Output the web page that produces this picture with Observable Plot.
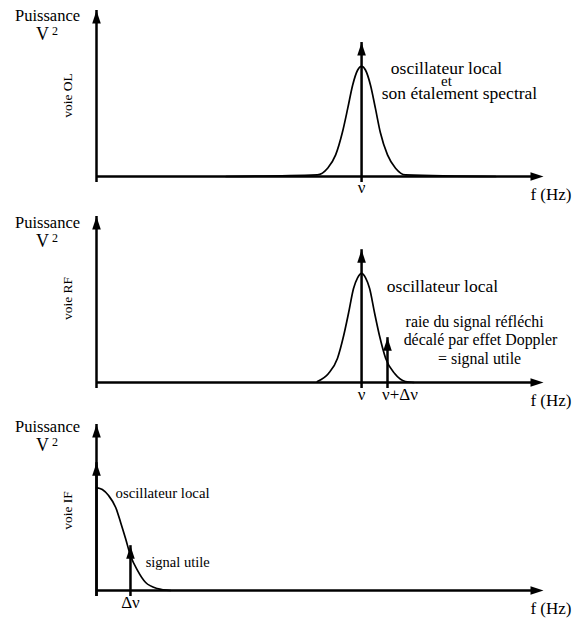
<!DOCTYPE html>
<html><head><meta charset="utf-8">
<script src="https://cdn.jsdelivr.net/npm/d3@7"></script>
<script src="https://cdn.jsdelivr.net/npm/@observablehq/plot@0.6"></script>
<style>
body{margin:0;background:#fff;}
#wrap{position:relative;width:572px;height:618px;background:#fff;}
#wrap svg{position:absolute;left:0;}
</style></head><body><div id="wrap"></div>
<script>
// ---------- data (arbitrary units) ----------
const axisMax = 100;
const yTitle = ["Puissance", "V", "2"];
const xTitle = "f (Hz)";
const channelNames = ["voie OL", "voie RF", "voie IF"];

// Panel 1 : voie OL
const olNu = 59.3;        // ν
const olTip = 80.7;       // height of the OL line arrow
const olF = [29, 49.4, 51.7, 53.5, 55.0, 56.2, 57.3, 58.4, 59.3, 60.2, 61.3, 62.4, 63.5, 65.1, 66.9, 69.1, 89.3];
const olP = [0, 1, 5, 13, 26.5, 41, 55, 64, 66.3, 64, 55, 41, 26.5, 13, 5, 1, 0];
const olNotes = ["oscillateur local", "et", "son étalement spectral"];
const olTicks = ["ν"];

// Panel 2 : voie RF
const rfNu = 59.3;
const rfNuShift = 65.1;   // ν+Δν
const rfTip = 80;
const rfShiftTip = 27;
const rfF = [49.4, 51.9, 53.9, 55.3, 56.4, 57.5, 58.4, 59.3, 60.2, 61.1, 62.2, 63.3, 64.7, 66.7, 69.1, 71];
const rfP = [0.6, 5.4, 14.5, 28.3, 42, 56.6, 63, 65.7, 63, 56.6, 42, 28.3, 14.5, 5.4, 0.6, 0];
const rfNotes = ["oscillateur local", "raie du signal réfléchi", "décalé par effet Doppler", "= signal utile"];
const rfTicks = ["ν", "ν+Δν"];

// Panel 3 : voie IF
const ifTip = 77;
const ifDnu = 7.6;        // Δν
const ifDnuTip = 27;
const ifF = [0, 1.3, 2.7, 4.3, 5.4, 6.5, 7.6, 9.2, 11.0, 13.6, 16.6];
const ifP = [62, 60.8, 57.2, 50, 41, 31.3, 21.1, 12, 4.8, 1.2, 0];
const ifNotes = ["oscillateur local", "signal utile"];
const ifTicks = ["Δν"];

// ---------- helpers ----------
const FONT = "'Liberation Serif', 'DejaVu Serif', serif";
const arrowUp = {draw(ctx){ ctx.moveTo(0,0); ctx.lineTo(4.3,13); ctx.lineTo(-4.3,13); ctx.closePath(); }};
const arrowRight = {draw(ctx){ ctx.moveTo(0,0); ctx.lineTo(-13,4.3); ctx.lineTo(-13,-4.3); ctx.closePath(); }};
const zip = (F, P) => F.map((f, i) => ({f, p: P[i]}));
const T = {fontFamily: FONT, fill: "black", lineAnchor: "middle", text: d => d};

function upArrow(x, tip, w = 2.5) {
  return [
    Plot.ruleX([{x, tip}], {x: "x", y1: 0, y2: "tip", stroke: "black", strokeWidth: w, insetTop: 6}),
    Plot.dot([{x, tip}], {x: "x", y: "tip", symbol: arrowUp, fill: "black", stroke: "none"})
  ];
}

// tY: [Puissance centre, channel centre] in px from the top of the frame
function frameMarks(channel, tY) {
  return [
    Plot.ruleY([0], {x1: 0, x2: axisMax, stroke: "black", strokeWidth: 2.5, insetRight: 6}),
    Plot.dot([{x: axisMax, y: 0}], {x: "x", y: "y", symbol: arrowRight, fill: "black", stroke: "none"}),
    ...upArrow(0, axisMax),
    Plot.text([yTitle[0]], {...T, frameAnchor: "top-left", dx: -49, dy: tY[0], fontSize: 16.5, textAnchor: "middle"}),
    Plot.text([yTitle[1]], {...T, frameAnchor: "top-left", dx: -54, dy: tY[0] + 19, fontSize: 18, textAnchor: "middle"}),
    Plot.text([yTitle[2]], {...T, frameAnchor: "top-left", dx: -41.5, dy: tY[0] + 15.5, fontSize: 12, textAnchor: "middle"}),
    Plot.text([channel], {...T, frameAnchor: "top-left", dx: -29, dy: tY[1], rotate: -90, fontSize: 13.5, textAnchor: "middle"}),
    Plot.text([xTitle], {...T, frameAnchor: "bottom-right", dx: 28, dy: 18, fontSize: 17, textAnchor: "end"})
  ];
}

function panel(marks, top) {
  const svg = Plot.plot({
    width: 572, height: 204,
    marginLeft: 96, marginRight: 29, marginTop: 10, marginBottom: 28,
    x: {domain: [0, axisMax], axis: null},
    y: {domain: [0, axisMax], axis: null},
    style: {fontFamily: FONT, background: "transparent", overflow: "visible"},
    marks
  });
  svg.style.position = "absolute";
  svg.style.top = top + "px";
  svg.style.left = "0px";
  document.getElementById("wrap").appendChild(svg);
}

// ---------- panel 1 ----------
panel([
  ...frameMarks(channelNames[0], [5, 85]),
  Plot.line(zip(olF, olP), {x: "f", y: "p", curve: "monotone-x", stroke: "black", strokeWidth: 1.7}),
  ...upArrow(olNu, olTip),
  Plot.text(olTicks, {...T, x: () => olNu, frameAnchor: "bottom", dy: 11, fontSize: 17}),
  Plot.text([olNotes[0]], {...T, x: () => 78.3, y: () => 65, fontSize: 17.5}),
  Plot.text([olNotes[1]], {...T, x: () => 78.3, y: () => 57.4, fontSize: 15}),
  Plot.text([olNotes[2]], {...T, x: () => 81.2, y: () => 50, fontSize: 17.5})
], 0);

// ---------- panel 2 ----------
panel([
  ...frameMarks(channelNames[1], [6, 82]),
  Plot.line(zip(rfF, rfP), {x: "f", y: "p", curve: "monotone-x", stroke: "black", strokeWidth: 1.7}),
  ...upArrow(rfNu, rfTip),
  ...upArrow(rfNuShift, rfShiftTip),
  Plot.text([{x: rfNu, t: rfTicks[0]}, {x: rfNuShift + 2.8, t: rfTicks[1]}], {...T, x: "x", text: "t", frameAnchor: "bottom", dy: 12, fontSize: 17}),
  Plot.text([rfNotes[0]], {...T, x: () => 77.4, y: () => 57.8, fontSize: 17.5}),
  Plot.text([rfNotes[1]], {...T, x: () => 84.6, y: () => 36.7, fontSize: 15.9}),
  Plot.text([rfNotes[2]], {...T, x: () => 85.9, y: () => 25.4, fontSize: 15.9}),
  Plot.text([rfNotes[3]], {...T, x: () => 85.7, y: () => 14.4, fontSize: 15.9})
], 206);

// ---------- panel 3 ----------
panel([
  ...frameMarks(channelNames[2], [2, 86]),
  Plot.line(zip(ifF, ifP), {x: "f", y: "p", curve: "monotone-x", stroke: "black", strokeWidth: 1.7}),
  ...upArrow(0, ifTip),
  ...upArrow(ifDnu, ifDnuTip),
  Plot.text(ifTicks, {...T, x: () => ifDnu, frameAnchor: "bottom", dy: 12, fontSize: 17}),
  Plot.text([ifNotes[0]], {...T, x: () => 4.25, y: () => 58.4, textAnchor: "start", fontSize: 14.8}),
  Plot.text([ifNotes[1]], {...T, x: () => 11.0, y: () => 16.9, textAnchor: "start", fontSize: 14.5})
], 414);
</script>
</body></html>
